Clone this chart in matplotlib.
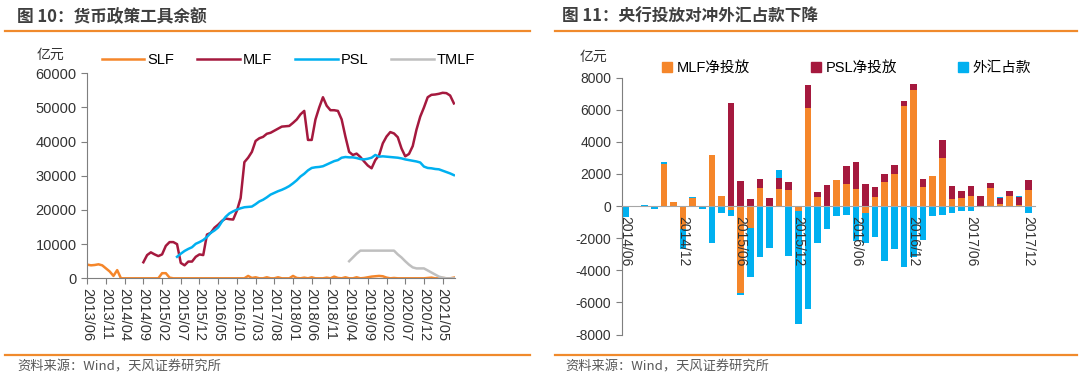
import numpy as np
import matplotlib
matplotlib.use("Agg")
from matplotlib import pyplot as plt
from matplotlib.patches import Patch
from matplotlib.lines import Line2D

plt.rcParams['font.family'] = ['Liberation Sans', 'Noto Sans CJK SC']
plt.rcParams['axes.unicode_minus'] = False

ORANGE = '#F5862A'
CRIMSON = '#A5193E'
BLUE = '#00B0F0'
GREY = '#BFBFBF'
TEXT = '#333333'

# ---- fig 10: balances (100 mn yuan), monthly from 2013/06 ----
left_ticks = ['2013/06', '2013/11', '2014/04', '2014/09', '2015/02', '2015/07',
              '2015/12', '2016/05', '2016/10', '2017/03', '2017/08', '2018/01',
              '2018/06', '2018/11', '2019/04', '2019/09', '2020/02', '2020/07',
              '2020/12', '2021/05']

slf = [4000, 3800, 3900, 4100, 3800, 2900, 2000, 700, 2400, 0,
       0, 0, 0, 0, 0, 0, 0, 0, 0, 0,
       1500, 1500, 200, 0, 0, 0, 0, 0, 0, 0,
       0, 0, 0, 0, 0, 0, 0, 0, 0, 0,
       0, 0, 0, 700, 100, 300, 0, 0, 300, 0,
       0, 300, 0, 0, 0, 700, 100, 0, 200, 0,
       300, 0, 0, 0, 200, 0, 500, 100, 0, 300,
       0, 0, 300, 0, 100, 300, 500, 600, 700, 600,
       200, 0, 100, 0, 0, 0, 0, 0, 0, 0,
       0, 100, 200, 0, 0, 100, 0, 0, 200]

mlf_start = 15
mlf = [4700, 6800, 7600, 7000, 6500, 7000, 9500, 10600, 10600, 10000,
       4500, 3800, 4900, 4900, 6300, 7000, 6800, 12800, 13300, 14800,
       15700, 16800, 17500, 17300, 17200, 19800, 23500, 34000, 35300, 37000,
       40200, 41000, 41400, 42300, 42600, 43200, 43800, 44400, 44500, 44600,
       45500, 46500, 48000, 49000, 40500, 40500, 46500, 50000, 53000, 50500,
       49200, 49200, 49000, 46500, 41500, 37000, 36100, 36500, 35500, 34200,
       33000, 32200, 34600, 36000, 39500, 41500, 42800, 42400, 41300, 38000,
       35700, 36400, 38700, 43500, 47300, 50000, 53000, 53700, 53800, 54000,
       54300, 54200, 53500, 51200]

psl_start = 24
psl = [6300, 7200, 8000, 8600, 9100, 10100, 10600, 11200, 12100, 13300,
       14000, 14900, 16600, 18000, 19000, 19600, 20100, 20500, 20800, 20900,
       21000, 21700, 22500, 23000, 23700, 24500, 25000, 25500, 25900, 26400,
       27000, 27800, 28700, 29800, 30600, 31600, 32300, 32500, 32600, 32800,
       33300, 33800, 34300, 34600, 35300, 35500, 35400, 35400, 35200, 34900,
       34800, 35000, 35300, 36100, 35600, 35700, 35600, 35500, 35400, 35300,
       35100, 34800, 34600, 34400, 34200, 33900, 32700, 32300, 32200, 32000,
       31900, 31500, 31100, 30700, 30200]

tmlf_start = 70
tmlf = [5000, 6100, 7200, 8100, 8100, 8100, 8100, 8100, 8100, 8100,
        8100, 8100, 8100, 7000, 6100, 5000, 4000, 3200, 2900, 2900,
        2900, 2300, 1700, 1100, 500, 200, 0, 0, 0]

# ---- fig 11: monthly flows 2014/06 - 2017/12 ----
right_ticks = ['2014/06', '2014/12', '2015/06', '2015/12', '2016/06',
               '2016/12', '2017/06', '2017/12']
mlf_net = [0, 0, 0, 0, 2640, 230, -1400, 500, 0, 3160,
           640, -270, -5400, -1370, 1100, 0, 1040, 980, -310, 6110,
           540, 0, 1640, 1390, 1040, -440, 540, 1500, 2020, 6240,
           7210, 1160, 1850, 2990, 440, 500, 640, 0, 1120, 120,
           600, 40, 980]
psl_net = [0, 0, 0, 0, 0, 0, 0, 0, 0, 0,
           0, 6440, 1560, 420, 580, 520, 700, 520, 0, 1455,
           330, 1330, 0, 1080, 1725, 1390, 620, 480, 520, 330,
           375, 500, 0, 1100, 810, 415, 600, 600, 330, 370,
           310, 520, 620]
fx_net = [-700, 0, 60, -150, 80, -80, -1300, 60, -200, -2290,
          -440, -350, -150, -3060, -3180, -2620, 520, -3140, -7030, -6400,
          -2270, -1455, -600, -540, -2200, -1870, -1930, -3390, -2660, -3800,
          -3200, -2100, -600, -540, -440, -310, -310, 0, 0, 60,
          60, 60, -400]

fig = plt.figure(figsize=(10.8, 3.91), dpi=100)

# headers / footers
fig.text(17 / 1080, 1 - 17 / 391, '图 10：货币政策工具余额', family=['Noto Sans CJK SC'],
         fontsize=12, fontweight='bold', color='#3F3F3F', va='center')
fig.text(562 / 1080, 1 - 17 / 391, '图 11：央行投放对冲外汇占款下降', family=['Noto Sans CJK SC'],
         fontsize=12, fontweight='bold', color='#3F3F3F', va='center')
for x0, x1 in [(5, 530), (555, 1077)]:
    for yy in (31, 355):
        fig.add_artist(Line2D([x0 / 1080, x1 / 1080], [1 - yy / 391] * 2,
                              color='#F08A2C', lw=1.6))
for xx in (17, 565):
    fig.text(xx / 1080, 1 - 367 / 391, '资料来源：Wind，天风证券研究所',
             family=['Noto Sans CJK SC'], fontsize=9.5, color='#595959', va='center')

# ---- left chart ----
ax1 = fig.add_axes([0.0808, 0.2882, 0.3405, 0.5243])
ax1.plot(np.arange(len(slf)), slf, color=ORANGE, lw=1.8, label='SLF')
ax1.plot(np.arange(mlf_start, mlf_start + len(mlf)), mlf, color=CRIMSON, lw=1.8, label='MLF')
ax1.plot(np.arange(psl_start, psl_start + len(psl)), psl, color=BLUE, lw=1.8, label='PSL')
ax1.plot(np.arange(tmlf_start, tmlf_start + len(tmlf)), tmlf, color=GREY, lw=1.8, label='TMLF')
ax1.set_xlim(0, 98.3)
ax1.set_ylim(0, 60000)
ax1.set_yticks(np.arange(0, 60001, 10000))
ax1.set_xticks(np.arange(0, 5 * len(left_ticks), 5))
ax1.set_xticklabels(left_ticks, rotation=270, ha='center', va='top')
for s in ('top', 'right'):
    ax1.spines[s].set_visible(False)
for s in ('left', 'bottom'):
    ax1.spines[s].set_color('#7F7F7F')
ax1.tick_params(axis='both', colors='#7F7F7F', labelcolor=TEXT, labelsize=10.5, length=4)
ax1.tick_params(axis='x', pad=3)
ax1.legend(ncol=4, loc='center left', bbox_to_anchor=(0.04, 1.065), frameon=False,
           borderpad=0, borderaxespad=0, handlelength=2.9, handletextpad=0.2,
           columnspacing=1.6, fontsize=10.5)
fig.text(50 / 1080, 1 - 55 / 391, '亿元', family=['Noto Sans CJK SC'], fontsize=10,
         color=TEXT, ha='center', va='center')

# ---- right chart ----
ax2 = fig.add_axes([0.5756, 0.1445, 0.3831, 0.6568])
ax2.spines['bottom'].set_position(('data', 0))  # resets ticks, so do it first
ax2.set_axisbelow(False)  # date labels sit on top of the bars
x = np.arange(len(mlf_net))
pos = np.zeros(len(x))
neg = np.zeros(len(x))
for vals, color, label in [(mlf_net, ORANGE, 'MLF净投放'),
                           (psl_net, CRIMSON, 'PSL净投放'),
                           (fx_net, BLUE, '外汇占款')]:
    v = np.array(vals, dtype=float)
    ax2.bar(x, v, 0.7, bottom=np.where(v >= 0, pos, neg), color=color,
            label=label, zorder=2)
    pos += np.clip(v, 0, None)
    neg += np.clip(v, None, 0)
ax2.set_xlim(-0.4, 42.7)
ax2.set_ylim(-8000, 8000)
ax2.set_yticks(np.arange(-8000, 8001, 2000))
ax2.set_xticks(np.arange(0, len(x), 6))
ax2.set_xticklabels(right_ticks, rotation=270, ha='center', va='top')
ax2.spines['bottom'].set_color('#A6A6A6')
ax2.spines['bottom'].set_zorder(3)
ax2.spines['left'].set_color('#7F7F7F')
for s in ('top', 'right'):
    ax2.spines[s].set_visible(False)
ax2.tick_params(axis='y', colors='#7F7F7F', labelcolor=TEXT, labelsize=10, length=4)
ax2.tick_params(axis='x', length=0, labelcolor=TEXT, labelsize=10, pad=7)
handles = [Patch(color=ORANGE), Patch(color=CRIMSON), Patch(color=BLUE)]
ax2.legend(handles, ['MLF净投放', 'PSL净投放', '外汇占款'], ncol=3, loc='center left',
           bbox_to_anchor=(0.097, 1.038), frameon=False, borderpad=0, borderaxespad=0,
           handlelength=0.7, handleheight=0.7, handletextpad=0.3, columnspacing=4.2,
           fontsize=10.5)
fig.text(593 / 1080, 1 - 57 / 391, '亿元', family=['Noto Sans CJK SC'], fontsize=10,
         color=TEXT, ha='center', va='center')

fig.savefig('out.png', dpi=100)
